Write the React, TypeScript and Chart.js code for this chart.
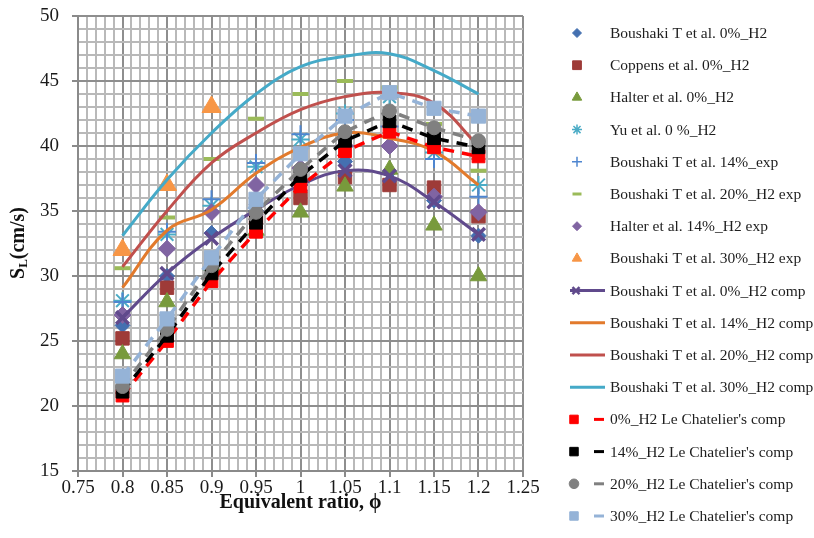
import React, { useEffect, useRef } from 'react';
import { Chart, registerables } from 'chart.js';
import { drawPoint } from 'chart.js/helpers';

Chart.register(...registerables);

// ---- data ----
const phi = [0.8, 0.85, 0.9, 0.95, 1.0, 1.05, 1.1, 1.15, 1.2];
const boushaki0 = [26.2, 30.0, 33.3, 35.0, 37.0, 38.8, 38.0, 35.8, 33.1];
const coppens0 = [25.2, 29.1, 31.3, 34.5, 36.0, 37.6, 37.0, 36.8, 34.6];
const halter0 = [24.0, 28.0, 30.8, 33.5, 34.9, 36.9, 38.2, 33.9, 30.0];
const yu0 = [28.1, 33.2, 35.4, 38.4, 40.5, 42.5, 43.8, 39.5, 37.0];
const boushaki14exp = [28.0, 33.4, 35.9, 38.7, 40.9, 42.0, 41.5, 39.0, 36.1];
const boushaki20exp = [30.6, 34.5, 39.0, 42.1, 44.0, 45.0, 44.5, 41.7, 38.1];
const halter14exp = [27.0, 32.1, 34.9, 37.0, 38.3, 40.0, 40.0, 36.1, 34.9];
const boushaki30exp = [32.0, 37.0, 43.0, null, null, null, null, null, null];
const comp0 = [26.8, 30.2, 32.9, 35.1, 37.0, 38.1, 37.7, 35.7, 33.2];
const comp14 = [29.1, 33.5, 35.1, 37.9, 39.9, 41.0, 40.6, 39.6, 37.0];
const comp20 = [30.7, 35.0, 38.7, 41.0, 42.8, 43.8, 44.1, 43.3, 40.0];
const comp30 = [33.1, 37.4, 41.0, 44.0, 46.1, 46.9, 47.1, 45.8, 44.0];
const lc0 = [20.8, 25.0, 29.6, 33.4, 36.9, 39.6, 41.1, 39.9, 39.2];
const lc14 = [21.1, 25.4, 30.2, 34.1, 37.7, 40.4, 41.9, 40.6, 39.9];
const lc20 = [21.5, 25.9, 30.8, 34.9, 38.2, 41.1, 42.7, 41.4, 40.4];
const lc30 = [22.3, 26.7, 31.4, 35.9, 39.4, 42.3, 44.1, 42.9, 42.3];

const labels = [
  'Boushaki T et al. 0%_H2',
  'Coppens et al. 0%_H2',
  'Halter et al. 0%_H2',
  'Yu et al. 0 %_H2',
  'Boushaki T et al. 14%_exp',
  'Boushaki T et al. 20%_H2 exp',
  'Halter et al. 14%_H2 exp',
  'Boushaki T et al. 30%_H2 exp',
  'Boushaki T et al. 0%_H2 comp',
  'Boushaki T et al. 14%_H2 comp',
  'Boushaki T et al. 20%_H2 comp',
  'Boushaki T et al. 30%_H2 comp',
  "0%_H2 Le Chatelier's comp",
  "14%_H2 Le Chatelier's comp",
  "20%_H2 Le Chatelier's comp",
  "30%_H2 Le Chatelier's comp",
];

const xTitle = 'Equivalent ratio, ϕ';

type Kind = 'marker' | 'line' | 'lc';
interface Style {
  kind: Kind;
  color: string;
  ps: any;
  r: number;
  bw: number;
  lr: number;
  lbw: number;
}

const styles: Style[] = [
  { kind: 'marker', color: '#4470b0', ps: 'rectRot', r: 7.5, bw: 1, lr: 4.5, lbw: 1 },
  { kind: 'marker', color: '#9e3b38', ps: 'rect', r: 9.5, bw: 1, lr: 6.2, lbw: 1 },
  { kind: 'marker', color: '#789a3c', ps: 'triangle', r: 9.5, bw: 1, lr: 5.5, lbw: 1 },
  { kind: 'marker', color: '#4bacc6', ps: 'star', r: 9, bw: 2, lr: 5, lbw: 1.5 },
  { kind: 'marker', color: '#4f86d0', ps: 'cross', r: 9, bw: 2, lr: 5, lbw: 1.5 },
  { kind: 'marker', color: '#9bbb59', ps: 'line', r: 8, bw: 4, lr: 4.5, lbw: 3 },
  { kind: 'marker', color: '#8064a2', ps: 'rectRot', r: 8.5, bw: 1, lr: 4.5, lbw: 1 },
  { kind: 'marker', color: '#f79646', ps: 'triangle', r: 11, bw: 1, lr: 5.5, lbw: 1 },
  { kind: 'line', color: '#604a8c', ps: 'crossRot', r: 9, bw: 3.5, lr: 5, lbw: 2.5 },
  { kind: 'line', color: '#e27a2c', ps: false, r: 0, bw: 0, lr: 0, lbw: 0 },
  { kind: 'line', color: '#c0504d', ps: false, r: 0, bw: 0, lr: 0, lbw: 0 },
  { kind: 'line', color: '#45aac8', ps: false, r: 0, bw: 0, lr: 0, lbw: 0 },
  { kind: 'lc', color: '#ff0000', ps: 'rect', r: 9, bw: 1, lr: 6, lbw: 1 },
  { kind: 'lc', color: '#000000', ps: 'rect', r: 9, bw: 1, lr: 6, lbw: 1 },
  { kind: 'lc', color: '#808080', ps: 'circle', r: 7, bw: 1, lr: 4.8, lbw: 1 },
  { kind: 'lc', color: '#95b3d7', ps: 'rect', r: 10, bw: 1, lr: 6, lbw: 1 },
];

const values = [
  boushaki0, coppens0, halter0, yu0, boushaki14exp, boushaki20exp, halter14exp, boushaki30exp,
  comp0, comp14, comp20, comp30, lc0, lc14, lc20, lc30,
];

const SERIF = '"Liberation Serif", "Times New Roman", serif';

const isMajor = (v: number, step: number) => Math.abs(v / step - Math.round(v / step)) < 1e-6;

const decorPlugin = {
  id: 'decor',
  afterDraw(chart: any) {
    const ctx = chart.ctx as CanvasRenderingContext2D;
    ctx.save();
    // legend
    const lx0 = 570;
    const tx = 610;
    styles.forEach((s, i) => {
      const y = 33 + i * 32.2;
      ctx.save();
      if (s.kind === 'line') {
        ctx.strokeStyle = s.color;
        ctx.lineWidth = 3;
        ctx.beginPath();
        ctx.moveTo(lx0, y);
        ctx.lineTo(605, y);
        ctx.stroke();
        if (s.ps) {
          ctx.lineWidth = s.lbw;
          drawPoint(ctx, { pointStyle: s.ps, radius: s.lr, rotation: 0, borderWidth: s.lbw } as any, 576, y);
        }
      } else if (s.kind === 'lc') {
        ctx.strokeStyle = s.color;
        ctx.lineWidth = 3;
        ctx.beginPath();
        ctx.moveTo(594, y);
        ctx.lineTo(604, y);
        ctx.stroke();
        ctx.fillStyle = s.color;
        ctx.lineWidth = s.lbw;
        drawPoint(ctx, { pointStyle: s.ps, radius: s.lr, rotation: 0, borderWidth: s.lbw } as any, 574, y);
      } else {
        ctx.fillStyle = s.color;
        ctx.strokeStyle = s.color;
        ctx.lineWidth = s.lbw;
        drawPoint(ctx, { pointStyle: s.ps, radius: s.lr, rotation: 0, borderWidth: s.lbw } as any, 577, y);
      }
      ctx.restore();
      ctx.fillStyle = '#1e1e1e';
      ctx.font = '15.5px ' + SERIF;
      ctx.textBaseline = 'middle';
      ctx.textAlign = 'left';
      ctx.fillText(labels[i], tx, y + 1);
    });

    // x title
    ctx.fillStyle = '#111';
    ctx.font = 'bold 20px ' + SERIF;
    ctx.textAlign = 'center';
    ctx.textBaseline = 'middle';
    const area = chart.chartArea;
    ctx.fillText(xTitle, (area.left + area.right) / 2, 503);

    // y title with subscript
    ctx.save();
    ctx.translate(18, 243);
    ctx.rotate(-Math.PI / 2);
    const fMain = 'bold 20px ' + SERIF;
    const fSub = 'bold 13px ' + SERIF;
    ctx.font = fMain;
    const wS = ctx.measureText('S').width;
    const wRest = ctx.measureText('(cm/s)').width;
    ctx.font = fSub;
    const wL = ctx.measureText('L').width;
    const total = wS + wL + wRest;
    let x = -total / 2;
    ctx.textAlign = 'left';
    ctx.textBaseline = 'alphabetic';
    ctx.font = fMain;
    ctx.fillText('S', x, 6);
    x += wS;
    ctx.font = fSub;
    ctx.fillText('L', x, 9);
    x += wL;
    ctx.font = fMain;
    ctx.fillText('(cm/s)', x, 6);
    ctx.restore();

    ctx.restore();
  },
};

export default function App() {
  const ref = useRef<HTMLCanvasElement>(null);
  useEffect(() => {
    document.body.style.margin = '0';
    const datasets = styles.map((s, i) => {
      const data = values[i]
        .map((v, j) => ({ x: phi[j], y: v }))
        .filter((p) => p.y !== null);
      const base: any = {
        label: labels[i],
        data,
        order: styles.length - i,
        borderColor: s.color,
        backgroundColor: s.color,
        pointBackgroundColor: s.color,
        pointBorderColor: s.color,
        pointStyle: s.ps,
        pointRadius: s.r,
        pointBorderWidth: s.bw,
        pointHoverRadius: s.r,
      };
      if (s.kind === 'marker') {
        base.showLine = false;
      } else if (s.kind === 'line') {
        base.showLine = true;
        base.borderWidth = 3;
        base.tension = 0.4;
        if (!s.ps) base.pointRadius = 0;
      } else {
        base.showLine = true;
        base.borderWidth = 3.5;
        base.borderDash = [11, 8];
        base.tension = 0;
      }
      return base;
    });

    const gridColor = (step: number) => (ctx: any) =>
      ctx.tick && isMajor(ctx.tick.value, step) ? '#8e8e8e' : '#b9b9b9';

    const chart = new Chart(ref.current as HTMLCanvasElement, {
      type: 'scatter',
      data: { datasets },
      options: {
        responsive: true,
        maintainAspectRatio: false,
        animation: false,
        devicePixelRatio: 1,
        layout: { padding: { top: 16, right: 291, left: 0, bottom: 0 } },
        plugins: { legend: { display: false }, tooltip: { enabled: false } },
        scales: {
          x: {
            type: 'linear',
            min: 0.75,
            max: 1.25,
            afterBuildTicks: (scale: any) => {
              const t = [];
              for (let k = 75; k <= 125; k++) t.push({ value: k / 100 });
              scale.ticks = t;
            },
            afterFit: (scale: any) => {
              scale.height = 67;
              scale.paddingLeft = 0;
              scale.paddingRight = 0;
            },
            ticks: {
              autoSkip: false,
              maxRotation: 0,
              minRotation: 0,
              padding: 0,
              color: '#1a1a1a',
              font: { family: SERIF, size: 19 },
              callback: (v: any) => (isMajor(Number(v), 0.05) ? String(Math.round(Number(v) * 100) / 100) : ''),
            },
            grid: {
              color: gridColor(0.05),
              lineWidth: 2,
              tickLength: 6,
              tickColor: (ctx: any) => (ctx.tick && isMajor(ctx.tick.value, 0.05) ? '#8a8a8a' : 'rgba(0,0,0,0)'),
            },
            border: { color: '#8a8a8a', width: 2 },
          },
          y: {
            type: 'linear',
            min: 15,
            max: 50,
            afterBuildTicks: (scale: any) => {
              const t = [];
              for (let k = 15; k <= 50; k++) t.push({ value: k });
              scale.ticks = t;
            },
            afterFit: (scale: any) => {
              scale.width = 78;
              scale.paddingTop = 0;
              scale.paddingBottom = 0;
            },
            ticks: {
              autoSkip: false,
              padding: 13,
              color: '#1a1a1a',
              font: { family: SERIF, size: 19 },
              callback: (v: any) => (isMajor(Number(v), 5) ? String(v) : ''),
            },
            grid: {
              color: gridColor(5),
              lineWidth: 2,
              tickLength: 6,
              tickColor: (ctx: any) => (ctx.tick && isMajor(ctx.tick.value, 5) ? '#8a8a8a' : 'rgba(0,0,0,0)'),
            },
            border: { color: '#8a8a8a', width: 2 },
          },
        },
      },
      plugins: [decorPlugin],
    } as any);
    return () => {
      chart.destroy();
    };
  }, []);
  return (
    <div style={{ position: 'fixed', left: 0, top: 0, width: 814, height: 538, background: '#fff' }}>
      <canvas ref={ref} />
    </div>
  );
}
